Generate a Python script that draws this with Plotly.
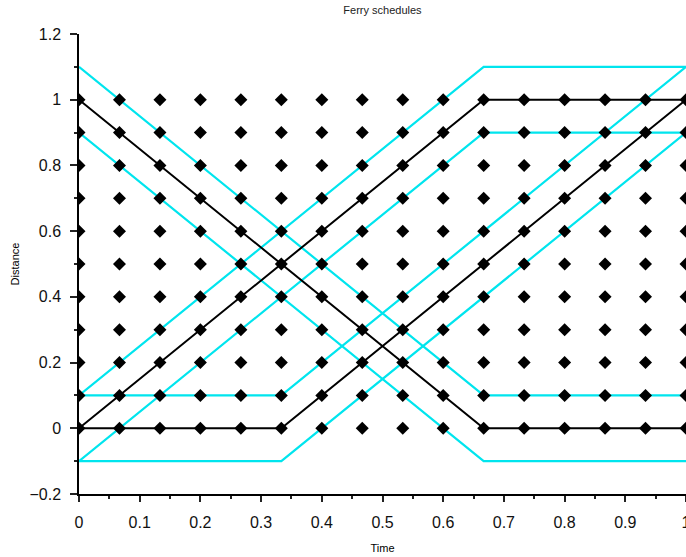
import plotly.graph_objects as go

# Grid of schedule points
grid_x = [k / 15 for k in range(16)]
grid_y = [j / 10 for j in range(11)]

# Black schedule lines (time, distance)
black_lines = [
    ([0, 2/3, 1], [1, 0, 0]),
    ([0, 2/3, 1], [0, 1, 1]),
    ([0, 1/3, 1], [0, 0, 1]),
]
# Cyan tolerance lines (offset +/-0.1)
cyan_lines = [
    ([0, 2/3, 1], [1.1, 0.1, 0.1]),
    ([0, 2/3, 1], [0.9, -0.1, -0.1]),
    ([0, 2/3, 1], [0.1, 1.1, 1.1]),
    ([0, 2/3, 1], [-0.1, 0.9, 0.9]),
    ([0, 1/3, 1], [0.1, 0.1, 1.1]),
    ([0, 1/3, 1], [-0.1, -0.1, 0.9]),
]

fig = go.Figure()
for xs, ys in cyan_lines:
    fig.add_trace(go.Scatter(x=xs, y=ys, mode="lines",
                             line=dict(color="#00e5ee", width=2.2), showlegend=False))
for xs, ys in black_lines:
    fig.add_trace(go.Scatter(x=xs, y=ys, mode="lines",
                             line=dict(color="black", width=2), showlegend=False))

px_, py_ = [], []
for x in grid_x:
    for y in grid_y:
        px_.append(x)
        py_.append(y)
fig.add_trace(go.Scatter(x=px_, y=py_, mode="markers",
                         marker=dict(symbol="diamond", size=10, color="black"),
                         showlegend=False))

font = "Liberation Sans, Arial, sans-serif"
fig.update_layout(
    width=686, height=557,
    margin=dict(l=79, r=0, t=34, b=63, autoexpand=False),
    plot_bgcolor="white", paper_bgcolor="white",
    font=dict(family=font, color="black"),
    title=dict(text="Ferry schedules", x=0.5, xref="paper", xanchor="center",
               y=1 - 10 / 557, yref="container", yanchor="middle",
               font=dict(size=11, color="#222")),
    showlegend=False,
)
fig.update_xaxes(range=[0, 1], showgrid=False, zeroline=False, automargin=False,
                 showline=True, linecolor="black", linewidth=1.5,
                 ticks="outside", ticklen=6, tickwidth=1.5, tickcolor="#222",
                 dtick=0.1, tick0=0, tickformat="~g",
                 ticklabelstandoff=7, ticklabeloverflow="allow",
                 tickfont=dict(size=16, color="#111"),
                 minor=dict(ticks="outside", ticklen=3, dtick=0.05, tickcolor="#222", tickwidth=1.5),
                 title=dict(text="Time", font=dict(size=11), standoff=14))
fig.update_yaxes(range=[-0.2, 1.2], showgrid=False, zeroline=False, automargin=False,
                 showline=True, linecolor="black", linewidth=1.5,
                 ticks="outside", ticklen=7, tickwidth=1.5, tickcolor="#222",
                 dtick=0.2, tick0=0, tickformat="~g",
                 ticklabelstandoff=6,
                 tickfont=dict(size=16, color="#111"),
                 minor=dict(ticks="outside", ticklen=3, dtick=0.1, tickcolor="#222", tickwidth=1.5),
                 title=dict(text="Distance", font=dict(size=11), standoff=8))

fig.write_html("out.html")
